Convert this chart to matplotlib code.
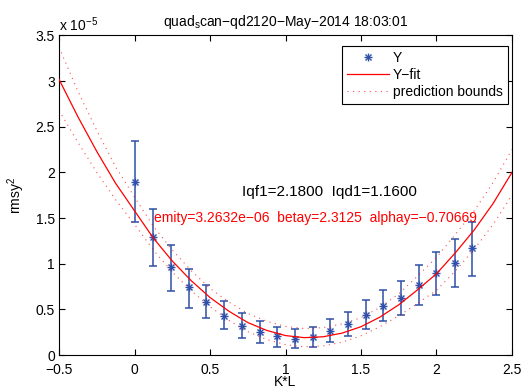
import numpy as np
import matplotlib
matplotlib.use("Agg")
import matplotlib.pyplot as plt

plt.rcParams['font.family'] = ['Liberation Sans', 'DejaVu Sans']
plt.rcParams['mathtext.fontset'] = 'custom'
plt.rcParams['mathtext.rm'] = 'Liberation Sans'
plt.rcParams['mathtext.it'] = 'Liberation Sans'

# measured points (rmsy^2 in units of 1e-5)
kl = [0.0, 0.121, 0.239, 0.358, 0.475, 0.592, 0.711, 0.828, 0.946, 1.063,
      1.18, 1.297, 1.414, 1.53, 1.646, 1.766, 1.883, 2.0, 2.12, 2.234]
rms2 = [1.90, 1.29, 0.96, 0.74, 0.586, 0.43, 0.32, 0.255, 0.205, 0.18,
        0.197, 0.267, 0.345, 0.44, 0.54, 0.63, 0.77, 0.895, 1.01, 1.17]
err_hi = [2.34, 1.60, 1.21, 0.945, 0.77, 0.59, 0.46, 0.37, 0.31, 0.29,
          0.31, 0.39, 0.47, 0.60, 0.71, 0.81, 0.99, 1.13, 1.27, 1.46]
err_lo = [1.46, 0.97, 0.70, 0.52, 0.40, 0.28, 0.19, 0.13, 0.09, 0.08,
          0.09, 0.14, 0.21, 0.28, 0.37, 0.44, 0.55, 0.66, 0.75, 0.87]

# fit curve and prediction bounds
fit_x = [-0.5, -0.375, -0.25, -0.125, 0.0, 0.125, 0.25, 0.375, 0.5, 0.625,
         0.75, 0.875, 1.0, 1.125, 1.25, 1.375, 1.5, 1.625, 1.75, 1.875,
         2.0, 2.125, 2.25, 2.375, 2.5]
fit_y = [3.02, 2.61, 2.23, 1.88, 1.58, 1.28, 1.03, 0.815, 0.63, 0.48,
         0.356, 0.27, 0.213, 0.19, 0.20, 0.24, 0.31, 0.415, 0.55, 0.715,
         0.89, 1.12, 1.37, 1.66, 2.0]
bound_up = [3.37, 2.89, 2.46, 2.06, 1.73, 1.41, 1.15, 0.925, 0.73, 0.58,
            0.456, 0.37, 0.313, 0.29, 0.30, 0.34, 0.41, 0.52, 0.67, 0.865,
            1.07, 1.32, 1.58, 1.89, 2.25]
bound_dn = [2.68, 2.33, 2.00, 1.70, 1.43, 1.15, 0.91, 0.705, 0.53, 0.38,
            0.256, 0.17, 0.113, 0.09, 0.10, 0.14, 0.21, 0.31, 0.43, 0.565,
            0.71, 0.92, 1.16, 1.43, 1.75]

xticks = [-0.5, 0, 0.5, 1, 1.5, 2, 2.5]
xticklabels = ['\u22120.5', '0', '0.5', '1', '1.5', '2', '2.5']
yticks = [0, 0.5, 1, 1.5, 2, 2.5, 3, 3.5]
yticklabels = ['0', '0.5', '1', '1.5', '2', '2.5', '3', '3.5']

fig = plt.figure(figsize=(5.27, 3.9), dpi=100)
ax = fig.add_axes([0.112, 0.0897, 0.8595, 0.8193])

blue = '#2f4fa8'
red = '#ff0000'

yerr = [np.array(rms2) - np.array(err_lo), np.array(err_hi) - np.array(rms2)]
ax.errorbar(kl, rms2, yerr=yerr, fmt='none', ecolor=blue, elinewidth=1.1,
            capsize=3, capthick=1.1, zorder=2)
h1, = ax.plot(kl, rms2, '+', color=blue, ms=6, mew=1.0, zorder=3)
h2, = ax.plot(kl, rms2, 'x', color=blue, ms=4.5, mew=1.0, zorder=3)
hfit, = ax.plot(fit_x, fit_y, '-', color=red, lw=0.9, zorder=4)
hb, = ax.plot(fit_x, bound_up, color=red, lw=0.8, ls=(0, (1, 4)), alpha=0.7)
ax.plot(fit_x, bound_dn, color=red, lw=0.8, ls=(0, (1, 4)), alpha=0.7)

ax.set_xlim(-0.5, 2.5)
ax.set_ylim(0, 3.5)
ax.set_xticks(xticks)
ax.set_xticklabels(xticklabels)
ax.set_yticks(yticks)
ax.set_yticklabels(yticklabels)
ax.tick_params(direction='in', top=True, right=True, labelsize=10, length=4)
ax.tick_params(axis='x', pad=5.5)
ax.tick_params(axis='y', pad=3)
for s in ax.spines.values():
    s.set_linewidth(0.8)

ax.set_xlabel('K*L', fontsize=10, labelpad=-1)
ax.set_ylabel('rmsy$^2$', fontsize=10, labelpad=6)
ax.set_title('quad$_{\\mathregular{s}}$can\u2212qd2120\u2212May\u22122014 18:03:01',
             fontsize=10, pad=7)
ax.text(0.0, 1.005, 'x 10$^{\u22125}$', transform=ax.transAxes, fontsize=10,
        ha='left', va='bottom')

ax.text(0.71, 1.79, 'Iqf1=2.1800  Iqd1=1.1600', fontsize=11, color='black',
        ha='left', va='center')
ax.text(0.13, 1.50, 'emity=3.2632e\u221206  betay=2.3125  alphay=\u22120.70669',
        fontsize=10, color=red, ha='left', va='center')

leg = ax.legend([(h1, h2), hfit, hb], ['Y', 'Y\u2212fit', 'prediction bounds'],
                loc='upper right', bbox_to_anchor=(0.997, 0.975), fontsize=10,
                fancybox=False, framealpha=1, edgecolor='black',
                borderpad=0.35, labelspacing=0.2, handlelength=3.0,
                handletextpad=0.3, borderaxespad=0.2)
leg.get_frame().set_linewidth(0.8)

fig.savefig('out.png', dpi=100)
